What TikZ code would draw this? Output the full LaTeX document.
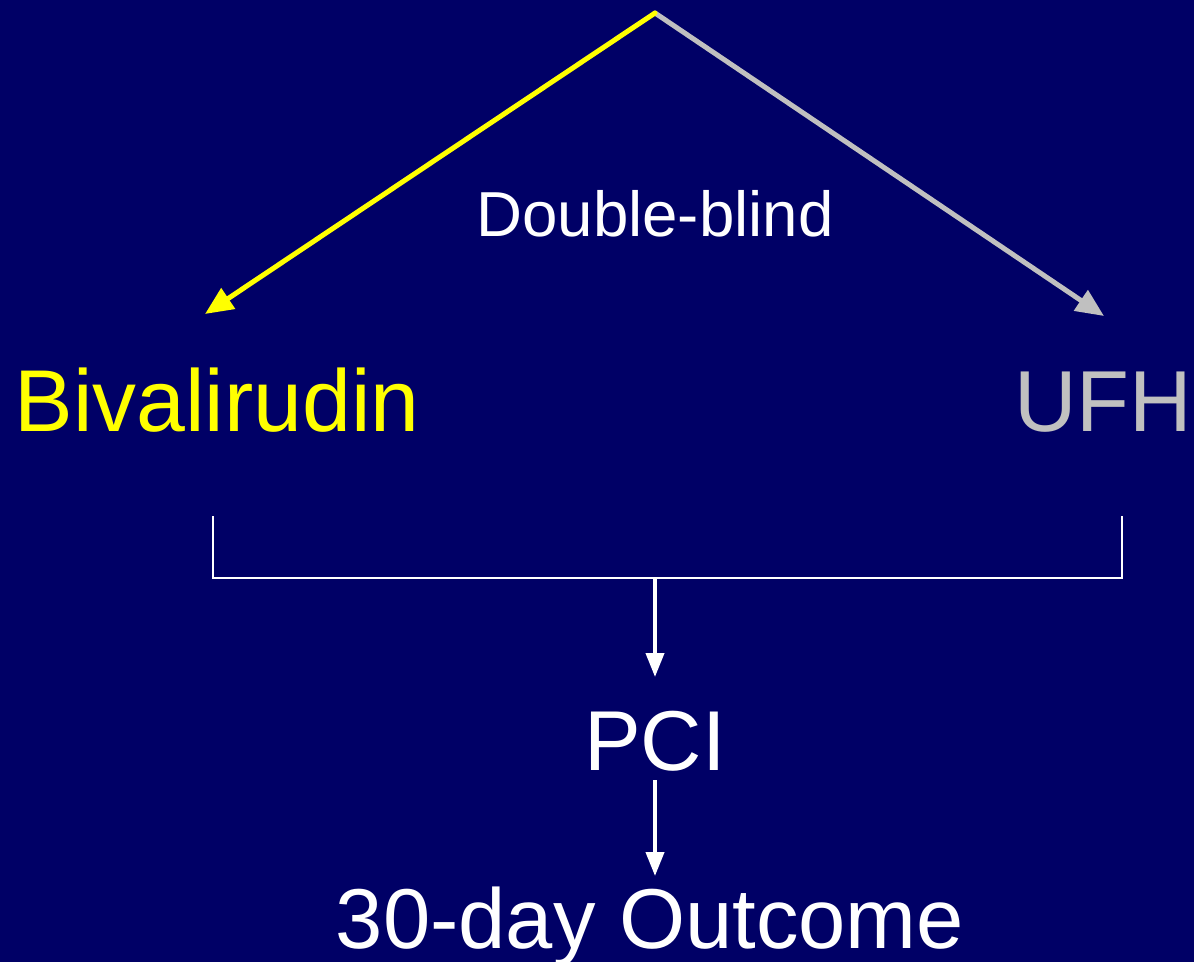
\documentclass[tikz,border=0pt]{standalone}
\usepackage{fontspec}
\setmainfont{Liberation Sans}
\usetikzlibrary{arrows.meta}
\definecolor{bgnavy}{HTML}{000066}
\definecolor{ufhgrey}{HTML}{C0C0C0}
\definecolor{bivyellow}{HTML}{FFFF00}
\tikzset{
  big/.style={font=\fontsize{42.5pt}{50pt}\selectfont, anchor=base, inner sep=0pt},
  small/.style={font=\fontsize{31.8pt}{38pt}\selectfont, anchor=base, inner sep=0pt, text=white},
  armline/.style={line width=2.5pt, -{Triangle[length=14pt,width=12pt]}},
  flow/.style={line width=2pt, white, -{Triangle[length=12pt,width=9pt]}},
  bracket/.style={line width=1.2pt, white}
}
\begin{document}
\begin{tikzpicture}[x=0.5pt,y=-0.5pt]
\fill[bgnavy] (0,0) rectangle (1194,962);
\useasboundingbox (0,0) rectangle (1194,962);
\coordinate (apex) at (655,13);
\coordinate (bivtip) at (205,314);
\coordinate (ufhtip) at (1104,316);
\node[small] (db) at (655,237) {Double-blind};
\node[big, text=bivyellow, font=\fontsize{43.9pt}{50pt}\selectfont] (biv) at (217,432) {Bivalirudin};
\node[big, text=ufhgrey, font=\fontsize{43.3pt}{50pt}\selectfont] (ufh) at (1103,432) {UFH};
\coordinate (bl) at (213,516);
\coordinate (br) at (1122,516);
\coordinate (bm) at (655,578);
\node[big, text=white] (pci) at (655,770) {PCI};
\node[big, text=white] (out) at (650,948) {30-day Outcome};
\draw[armline, ufhgrey, line cap=round] (apex) -- (ufhtip);
\draw[armline, bivyellow, line cap=round] (apex) -- (bivtip);
\draw[bracket] (bl) -- (bl |- bm) -- (br |- bm) -- (br);
\draw[flow] (bm) -- (655,677);
\draw[flow] (655,780) -- (655,876);
\end{tikzpicture}
\end{document}
